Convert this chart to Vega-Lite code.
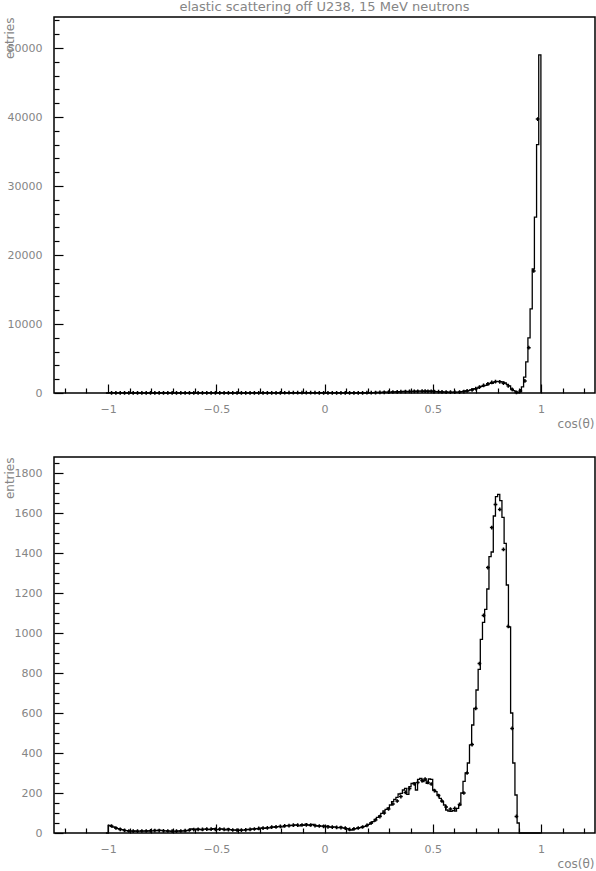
{
  "$schema": "https://vega.github.io/schema/vega-lite/v6.json",
  "padding": {"left": 2, "top": 0, "right": 0, "bottom": 0},
  "background": "white",
  "bounds": "flush",
  "spacing": 64,
  "config": {
    "font": "DejaVu Sans",
    "view": {"stroke": "black", "strokeWidth": 1.5},
    "axis": {"domain": false, "grid": false, "labelFont": "DejaVu Sans", "labelFontSize": 11, "labelColor": "#858585", "titleFont": "DejaVu Sans", "titleFontSize": 12, "titleFontWeight": "normal", "titleColor": "#858585", "tickColor": "black", "tickWidth": 1.2, "labelOverlap": false, "labelFlush": false, "tickCount": 500},
    "title": {"font": "DejaVu Sans", "fontSize": 13, "fontWeight": "normal", "color": "#858585"}
  },
  "datasets": {
    "bins": [
      {"c": -1.01, "n": 0, "m": 0},
      {"c": -1.00, "n": 38, "m": 38}, {"c": -0.99, "n": 33, "m": 33}, {"c": -0.98, "n": 30, "m": 30}, {"c": -0.97, "n": 27, "m": 27}, {"c": -0.96, "n": 22, "m": 22},
      {"c": -0.95, "n": 20, "m": 20}, {"c": -0.94, "n": 17, "m": 17}, {"c": -0.93, "n": 14, "m": 14}, {"c": -0.92, "n": 12, "m": 12}, {"c": -0.91, "n": 11, "m": 11},
      {"c": -0.90, "n": 10, "m": 10}, {"c": -0.89, "n": 9, "m": 9}, {"c": -0.88, "n": 10, "m": 10}, {"c": -0.87, "n": 8, "m": 8}, {"c": -0.86, "n": 9, "m": 9},
      {"c": -0.85, "n": 10, "m": 10}, {"c": -0.84, "n": 9, "m": 9}, {"c": -0.83, "n": 11, "m": 11}, {"c": -0.82, "n": 10, "m": 10}, {"c": -0.81, "n": 12, "m": 12},
      {"c": -0.80, "n": 11, "m": 11}, {"c": -0.79, "n": 13, "m": 13}, {"c": -0.78, "n": 12, "m": 12}, {"c": -0.77, "n": 14, "m": 14}, {"c": -0.76, "n": 13, "m": 13},
      {"c": -0.75, "n": 12, "m": 12}, {"c": -0.74, "n": 11, "m": 11}, {"c": -0.73, "n": 10, "m": 10}, {"c": -0.72, "n": 9, "m": 9}, {"c": -0.71, "n": 8, "m": 8},
      {"c": -0.70, "n": 9, "m": 9}, {"c": -0.69, "n": 8, "m": 8}, {"c": -0.68, "n": 10, "m": 10}, {"c": -0.67, "n": 9, "m": 9}, {"c": -0.66, "n": 11, "m": 11},
      {"c": -0.65, "n": 10, "m": 10}, {"c": -0.64, "n": 12, "m": 12}, {"c": -0.63, "n": 14, "m": 14}, {"c": -0.62, "n": 20, "m": 20}, {"c": -0.61, "n": 18, "m": 18},
      {"c": -0.60, "n": 17, "m": 17}, {"c": -0.59, "n": 20, "m": 20}, {"c": -0.58, "n": 18, "m": 18}, {"c": -0.57, "n": 16, "m": 16}, {"c": -0.56, "n": 19, "m": 19},
      {"c": -0.55, "n": 21, "m": 21}, {"c": -0.54, "n": 17, "m": 17}, {"c": -0.53, "n": 18, "m": 18}, {"c": -0.52, "n": 22, "m": 22}, {"c": -0.51, "n": 20, "m": 20},
      {"c": -0.50, "n": 17, "m": 17}, {"c": -0.49, "n": 19, "m": 19}, {"c": -0.48, "n": 21, "m": 21}, {"c": -0.47, "n": 18, "m": 18}, {"c": -0.46, "n": 16, "m": 16},
      {"c": -0.45, "n": 20, "m": 20}, {"c": -0.44, "n": 17, "m": 17}, {"c": -0.43, "n": 15, "m": 15}, {"c": -0.42, "n": 14, "m": 14}, {"c": -0.41, "n": 16, "m": 16},
      {"c": -0.40, "n": 13, "m": 13}, {"c": -0.39, "n": 15, "m": 15}, {"c": -0.38, "n": 14, "m": 14}, {"c": -0.37, "n": 16, "m": 16}, {"c": -0.36, "n": 18, "m": 18},
      {"c": -0.35, "n": 17, "m": 17}, {"c": -0.34, "n": 20, "m": 20}, {"c": -0.33, "n": 19, "m": 19}, {"c": -0.32, "n": 22, "m": 22}, {"c": -0.31, "n": 20, "m": 20},
      {"c": -0.30, "n": 24, "m": 24}, {"c": -0.29, "n": 25, "m": 25}, {"c": -0.28, "n": 23, "m": 23}, {"c": -0.27, "n": 27, "m": 27}, {"c": -0.26, "n": 26, "m": 26},
      {"c": -0.25, "n": 29, "m": 29}, {"c": -0.24, "n": 30, "m": 30}, {"c": -0.23, "n": 28, "m": 28}, {"c": -0.22, "n": 32, "m": 32}, {"c": -0.21, "n": 33, "m": 33},
      {"c": -0.20, "n": 31, "m": 31}, {"c": -0.19, "n": 35, "m": 35}, {"c": -0.18, "n": 37, "m": 37}, {"c": -0.17, "n": 36, "m": 36}, {"c": -0.16, "n": 38, "m": 38},
      {"c": -0.15, "n": 37, "m": 37}, {"c": -0.14, "n": 40, "m": 40}, {"c": -0.13, "n": 39, "m": 39}, {"c": -0.12, "n": 36, "m": 36}, {"c": -0.11, "n": 42, "m": 42},
      {"c": -0.10, "n": 38, "m": 38}, {"c": -0.09, "n": 44, "m": 44}, {"c": -0.08, "n": 40, "m": 40}, {"c": -0.07, "n": 37, "m": 37}, {"c": -0.06, "n": 43, "m": 43},
      {"c": -0.05, "n": 38, "m": 38}, {"c": -0.04, "n": 35, "m": 35}, {"c": -0.03, "n": 37, "m": 37}, {"c": -0.02, "n": 34, "m": 34}, {"c": -0.01, "n": 36, "m": 36},
      {"c": 0.00, "n": 32, "m": 32}, {"c": 0.01, "n": 34, "m": 34}, {"c": 0.02, "n": 30, "m": 30}, {"c": 0.03, "n": 29, "m": 29}, {"c": 0.04, "n": 31, "m": 31},
      {"c": 0.05, "n": 28, "m": 28}, {"c": 0.06, "n": 27, "m": 27}, {"c": 0.07, "n": 29, "m": 29}, {"c": 0.08, "n": 26, "m": 26}, {"c": 0.09, "n": 25, "m": 25},
      {"c": 0.10, "n": 22, "m": 22}, {"c": 0.11, "n": 16, "m": 16}, {"c": 0.12, "n": 15, "m": 15}, {"c": 0.13, "n": 20, "m": 20}, {"c": 0.14, "n": 22, "m": 22},
      {"c": 0.15, "n": 25, "m": 25}, {"c": 0.16, "n": 27, "m": 27}, {"c": 0.17, "n": 30, "m": 30}, {"c": 0.18, "n": 33, "m": 33}, {"c": 0.19, "n": 37, "m": 37},
      {"c": 0.20, "n": 43, "m": 43}, {"c": 0.21, "n": 50, "m": 50}, {"c": 0.22, "n": 57, "m": 57}, {"c": 0.23, "n": 68, "m": 68}, {"c": 0.24, "n": 78, "m": 78},
      {"c": 0.25, "n": 85, "m": 85}, {"c": 0.26, "n": 98, "m": 98}, {"c": 0.27, "n": 110, "m": 110}, {"c": 0.28, "n": 118, "m": 118}, {"c": 0.29, "n": 125, "m": 125},
      {"c": 0.30, "n": 140, "m": 140}, {"c": 0.31, "n": 157, "m": 157}, {"c": 0.32, "n": 168, "m": 168}, {"c": 0.33, "n": 178, "m": 178}, {"c": 0.34, "n": 195, "m": 195},
      {"c": 0.35, "n": 198, "m": 198}, {"c": 0.36, "n": 215, "m": 215}, {"c": 0.37, "n": 223, "m": 223}, {"c": 0.38, "n": 193, "m": 193}, {"c": 0.39, "n": 232, "m": 232},
      {"c": 0.40, "n": 248, "m": 248}, {"c": 0.41, "n": 250, "m": 250}, {"c": 0.42, "n": 215, "m": 215}, {"c": 0.43, "n": 268, "m": 268}, {"c": 0.44, "n": 273, "m": 273},
      {"c": 0.45, "n": 257, "m": 257}, {"c": 0.46, "n": 265, "m": 265}, {"c": 0.47, "n": 248, "m": 248}, {"c": 0.48, "n": 270, "m": 270}, {"c": 0.49, "n": 268, "m": 268},
      {"c": 0.50, "n": 215, "m": 215}, {"c": 0.51, "n": 207, "m": 207}, {"c": 0.52, "n": 190, "m": 190}, {"c": 0.53, "n": 173, "m": 173}, {"c": 0.54, "n": 157, "m": 157},
      {"c": 0.55, "n": 140, "m": 140}, {"c": 0.56, "n": 115, "m": 115}, {"c": 0.57, "n": 110, "m": 110}, {"c": 0.58, "n": 108, "m": 108}, {"c": 0.59, "n": 112, "m": 112},
      {"c": 0.60, "n": 110, "m": 110}, {"c": 0.61, "n": 123, "m": 123}, {"c": 0.62, "n": 140, "m": 140}, {"c": 0.63, "n": 200, "m": 200}, {"c": 0.64, "n": 258, "m": 258},
      {"c": 0.65, "n": 300, "m": 300}, {"c": 0.66, "n": 350, "m": 350}, {"c": 0.67, "n": 441, "m": 441}, {"c": 0.68, "n": 540, "m": 540}, {"c": 0.69, "n": 623, "m": 623},
      {"c": 0.70, "n": 715, "m": 715}, {"c": 0.71, "n": 818, "m": 818}, {"c": 0.72, "n": 968, "m": 968}, {"c": 0.73, "n": 1053, "m": 1053}, {"c": 0.74, "n": 1118, "m": 1118},
      {"c": 0.75, "n": 1220, "m": 1220}, {"c": 0.76, "n": 1382, "m": 1382}, {"c": 0.77, "n": 1405, "m": 1405}, {"c": 0.78, "n": 1585, "m": 1585}, {"c": 0.79, "n": 1682, "m": 1682},
      {"c": 0.80, "n": 1693, "m": 1693}, {"c": 0.81, "n": 1662, "m": 1662}, {"c": 0.82, "n": 1578, "m": 1578}, {"c": 0.83, "n": 1448, "m": 1448}, {"c": 0.84, "n": 1240, "m": 1240},
      {"c": 0.85, "n": 1030, "m": 1030}, {"c": 0.86, "n": 600, "m": 600}, {"c": 0.87, "n": 350, "m": 350}, {"c": 0.88, "n": 190, "m": 190}, {"c": 0.89, "n": 50, "m": 50},
      {"c": 0.90, "n": 150, "m": 0}, {"c": 0.91, "n": 900, "m": 0}, {"c": 0.92, "n": 2300, "m": 0}, {"c": 0.93, "n": 4500, "m": 0}, {"c": 0.94, "n": 8000, "m": 0},
      {"c": 0.95, "n": 12200, "m": 0}, {"c": 0.96, "n": 18000, "m": 0}, {"c": 0.97, "n": 25500, "m": 0}, {"c": 0.98, "n": 36000, "m": 0}, {"c": 0.99, "n": 49000, "m": 0},
      {"c": 1.00, "n": 0, "m": 0}
    ],
    "pts": [
      {"c": -0.984, "v": 35}, {"c": -0.964, "v": 25}, {"c": -0.944, "v": 18}, {"c": -0.924, "v": 13}, {"c": -0.904, "v": 10}, {"c": -0.884, "v": 9},
      {"c": -0.864, "v": 9}, {"c": -0.844, "v": 10}, {"c": -0.824, "v": 10}, {"c": -0.804, "v": 11}, {"c": -0.784, "v": 12}, {"c": -0.764, "v": 12},
      {"c": -0.744, "v": 11}, {"c": -0.724, "v": 10}, {"c": -0.704, "v": 9}, {"c": -0.684, "v": 9}, {"c": -0.664, "v": 10}, {"c": -0.644, "v": 12},
      {"c": -0.624, "v": 15}, {"c": -0.604, "v": 17}, {"c": -0.584, "v": 18}, {"c": -0.564, "v": 18}, {"c": -0.544, "v": 19}, {"c": -0.524, "v": 19},
      {"c": -0.504, "v": 18}, {"c": -0.484, "v": 19}, {"c": -0.464, "v": 18}, {"c": -0.444, "v": 17}, {"c": -0.424, "v": 15}, {"c": -0.404, "v": 14},
      {"c": -0.384, "v": 14}, {"c": -0.364, "v": 16}, {"c": -0.344, "v": 18}, {"c": -0.324, "v": 20}, {"c": -0.304, "v": 23}, {"c": -0.284, "v": 24},
      {"c": -0.264, "v": 26}, {"c": -0.244, "v": 29}, {"c": -0.224, "v": 31}, {"c": -0.204, "v": 33}, {"c": -0.184, "v": 36}, {"c": -0.164, "v": 37},
      {"c": -0.144, "v": 39}, {"c": -0.124, "v": 39}, {"c": -0.104, "v": 40}, {"c": -0.084, "v": 41}, {"c": -0.064, "v": 40}, {"c": -0.044, "v": 37},
      {"c": -0.024, "v": 35}, {"c": -0.004, "v": 33}, {"c": 0.016, "v": 31}, {"c": 0.036, "v": 29}, {"c": 0.056, "v": 28}, {"c": 0.076, "v": 27},
      {"c": 0.096, "v": 24}, {"c": 0.116, "v": 18}, {"c": 0.136, "v": 21}, {"c": 0.156, "v": 25}, {"c": 0.176, "v": 30}, {"c": 0.196, "v": 38},
      {"c": 0.216, "v": 50}, {"c": 0.236, "v": 65}, {"c": 0.256, "v": 82}, {"c": 0.276, "v": 100}, {"c": 0.296, "v": 120}, {"c": 0.316, "v": 145},
      {"c": 0.336, "v": 160}, {"c": 0.353, "v": 182}, {"c": 0.374, "v": 203}, {"c": 0.393, "v": 222}, {"c": 0.415, "v": 245}, {"c": 0.431, "v": 253},
      {"c": 0.451, "v": 262}, {"c": 0.465, "v": 270}, {"c": 0.478, "v": 253}, {"c": 0.493, "v": 245}, {"c": 0.508, "v": 212}, {"c": 0.527, "v": 187},
      {"c": 0.543, "v": 160}, {"c": 0.562, "v": 130}, {"c": 0.582, "v": 120}, {"c": 0.602, "v": 123}, {"c": 0.624, "v": 143}, {"c": 0.644, "v": 200},
      {"c": 0.659, "v": 300}, {"c": 0.682, "v": 442}, {"c": 0.699, "v": 623}, {"c": 0.716, "v": 847}, {"c": 0.735, "v": 1088}, {"c": 0.755, "v": 1327},
      {"c": 0.773, "v": 1527}, {"c": 0.790, "v": 1643}, {"c": 0.810, "v": 1618}, {"c": 0.827, "v": 1418}, {"c": 0.849, "v": 1033}, {"c": 0.867, "v": 523},
      {"c": 0.887, "v": 83}
    ],
    "ptsTop": [
      {"c": 0.905, "v": 300}, {"c": 0.926, "v": 1740}, {"c": 0.944, "v": 6560}, {"c": 0.967, "v": 17700}, {"c": 0.985, "v": 39700}
    ]
  },
  "vconcat": [
    {
      "title": {"text": "elastic scattering off U238, 15 MeV neutrons", "anchor": "middle", "frame": "group", "offset": 0},
      "width": 541,
      "height": 376,
      "layer": [
        {
          "data": {"name": "bins"},
          "mark": {"type": "line", "interpolate": "step-after", "color": "black", "strokeWidth": 1.3},
          "encoding": {
            "x": {"field": "c", "type": "quantitative", "scale": {"domain": [-1.25, 1.25], "nice": false, "zero": false},
              "axis": {"values": [-1.2, -1.1, -1, -0.9, -0.8, -0.7, -0.6, -0.5, -0.4, -0.3, -0.2, -0.1, 0, 0.1, 0.2, 0.3, 0.4, 0.5, 0.6, 0.7, 0.8, 0.9, 1, 1.1, 1.2],
                "tickCount": 500,
                "labelExpr": "abs(datum.value*2-round(datum.value*2))<0.001 ? format(datum.value,'~g') : ''",
                "tickSize": {"condition": {"test": "abs(datum.value*2-round(datum.value*2))<0.001", "value": -9}, "value": -5},
                "labelPadding": 19,
                "title": "cos(θ)", "titleAnchor": "end", "titleAlign": "right", "titleX": 540, "titleY": 30, "titleBaseline": "middle"}},
            "y": {"field": "n", "type": "quantitative", "scale": {"domain": [0, 54500], "nice": false, "zero": true},
              "axis": {"values": [0, 2000, 4000, 6000, 8000, 10000, 12000, 14000, 16000, 18000, 20000, 22000, 24000, 26000, 28000, 30000, 32000, 34000, 36000, 38000, 40000, 42000, 44000, 46000, 48000, 50000, 52000, 54000],
                "tickCount": 500,
                "labelExpr": "datum.value % 10000 == 0 ? format(datum.value,'d') : ''",
                "tickSize": {"condition": {"test": "datum.value % 10000 == 0", "value": -9}, "value": -5},
                "labelPadding": 21,
                "title": "entries", "titleAngle": -90, "titleAnchor": "end", "titleAlign": "right", "titleBaseline": "alphabetic", "titleX": -41, "titleY": 0}}
          }
        },
        {
          "data": {"name": "pts"},
          "mark": {"type": "point", "shape": "cross", "filled": true, "color": "black", "size": 14, "opacity": 1},
          "encoding": {
            "x": {"field": "c", "type": "quantitative"},
            "y": {"field": "v", "type": "quantitative"}
          }
        },
        {
          "data": {"name": "ptsTop"},
          "mark": {"type": "point", "shape": "cross", "filled": true, "color": "black", "size": 14, "opacity": 1},
          "encoding": {
            "x": {"field": "c", "type": "quantitative"},
            "y": {"field": "v", "type": "quantitative"}
          }
        }
      ]
    },
    {
      "width": 541,
      "height": 376,
      "layer": [
        {
          "data": {"name": "bins"},
          "mark": {"type": "line", "interpolate": "step-after", "color": "black", "strokeWidth": 1.3},
          "encoding": {
            "x": {"field": "c", "type": "quantitative", "scale": {"domain": [-1.25, 1.25], "nice": false, "zero": false},
              "axis": {"values": [-1.2, -1.1, -1, -0.9, -0.8, -0.7, -0.6, -0.5, -0.4, -0.3, -0.2, -0.1, 0, 0.1, 0.2, 0.3, 0.4, 0.5, 0.6, 0.7, 0.8, 0.9, 1, 1.1, 1.2],
                "tickCount": 500,
                "labelExpr": "abs(datum.value*2-round(datum.value*2))<0.001 ? format(datum.value,'~g') : ''",
                "tickSize": {"condition": {"test": "abs(datum.value*2-round(datum.value*2))<0.001", "value": -9}, "value": -5},
                "labelPadding": 19,
                "title": "cos(θ)", "titleAnchor": "end", "titleAlign": "right", "titleX": 540, "titleY": 30, "titleBaseline": "middle"}},
            "y": {"field": "m", "type": "quantitative", "scale": {"domain": [0, 1880], "nice": false, "zero": true},
              "axis": {"values": [0, 50, 100, 150, 200, 250, 300, 350, 400, 450, 500, 550, 600, 650, 700, 750, 800, 850, 900, 950, 1000, 1050, 1100, 1150, 1200, 1250, 1300, 1350, 1400, 1450, 1500, 1550, 1600, 1650, 1700, 1750, 1800, 1850],
                "tickCount": 500,
                "labelExpr": "datum.value % 200 == 0 ? format(datum.value,'d') : ''",
                "tickSize": {"condition": {"test": "datum.value % 200 == 0", "value": -9}, "value": -5},
                "labelPadding": 21,
                "title": "entries", "titleAngle": -90, "titleAnchor": "end", "titleAlign": "right", "titleBaseline": "alphabetic", "titleX": -41, "titleY": 0}}
          }
        },
        {
          "data": {"name": "pts"},
          "mark": {"type": "point", "shape": "cross", "filled": true, "color": "black", "size": 14, "opacity": 1},
          "encoding": {
            "x": {"field": "c", "type": "quantitative"},
            "y": {"field": "v", "type": "quantitative"}
          }
        }
      ]
    }
  ]
}
